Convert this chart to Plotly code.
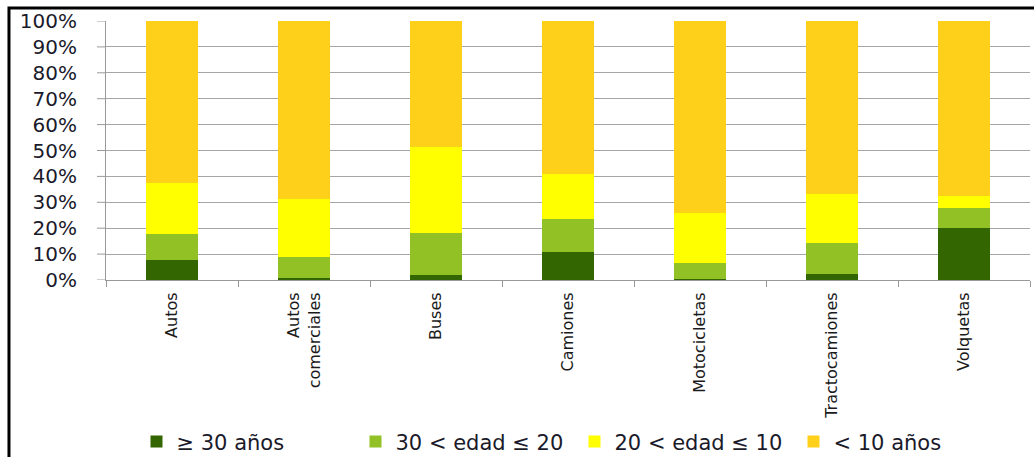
import plotly.graph_objects as go

categories = ["Autos", "Autos<br>comerciales", "Buses", "Camiones", "Motocicletas", "Tractocamiones", "Volquetas"]
series_names = ["≥ 30 años", "30 < edad ≤ 20", "20 < edad ≤ 10", "< 10 años"]
s_30_mas = [7.7, 0.8, 1.8, 10.9, 0.2, 2.3, 20.0]
s_20_30 = [10.1, 8.1, 16.2, 12.8, 6.2, 12.1, 7.7]
s_10_20 = [19.5, 22.3, 33.2, 17.1, 19.6, 18.7, 4.9]
s_menos_10 = [62.7, 68.8, 48.8, 59.2, 74.0, 66.9, 67.4]
colors = ["#336600", "#92C125", "#FFFF00", "#FFD01A"]
yticks = [0, 10, 20, 30, 40, 50, 60, 70, 80, 90, 100]
ytick_labels = [f"{v}%" for v in yticks]

fig = go.Figure()
for name, vals, col in zip(series_names, [s_30_mas, s_20_30, s_10_20, s_menos_10], colors):
    fig.add_trace(go.Bar(x=categories, y=vals, name=name, marker=dict(color=col, line=dict(width=0))))

font_family = "DejaVu Sans"
fig.update_layout(
    barmode="stack",
    bargap=0.6,
    width=1034, height=457,
    margin=dict(l=106, r=4, t=21, b=177, autoexpand=False),
    paper_bgcolor="white", plot_bgcolor="white",
    font=dict(family=font_family, size=15, color="#1A1A1A"),
    showlegend=True,
    legend=dict(orientation="h", x=0.033, xanchor="left", y=-0.625, yanchor="middle",
                font=dict(size=21, family=font_family, color="#1A1A2A"),
                traceorder="normal", itemwidth=30, entrywidth=174,
                bgcolor="rgba(255,255,255,0)"),
)
fig.update_xaxes(
    type="category",
    tickangle=-90,
    tickson="boundaries",
    ticks="outside", ticklen=6, tickcolor="#999999",
    showline=True, linecolor="#999999", linewidth=1,
    showgrid=False, automargin=False,
    ticklabelstandoff=5,
    tickfont=dict(size=16, family=font_family, color="#1A1A1A"),
)
fig.update_yaxes(
    range=[0, 100],
    tickvals=yticks, ticktext=ytick_labels,
    ticks="outside", ticklen=24, tickcolor="rgba(255,255,255,0)",
    showline=True, linecolor="#999999", linewidth=1,
    showgrid=True, gridcolor="#A6A6A6", gridwidth=1,
    automargin=False,
    tickfont=dict(size=20, family=font_family, color="#1A1A2A"),
    zeroline=False,
)
# short gray tick marks to the left of the y axis
for v in yticks:
    fig.add_shape(type="line", xref="paper", yref="y", x0=-9 / 924, x1=0, y0=v, y1=v,
                  line=dict(color="#999999", width=1), layer="above")
fig.add_shape(type="rect", xref="paper", yref="paper",
              x0=-0.105, x1=1.02, y0=-0.75, y1=1.05,
              line=dict(color="black", width=3), fillcolor="rgba(0,0,0,0)", layer="above")
fig.write_html("out.html")
